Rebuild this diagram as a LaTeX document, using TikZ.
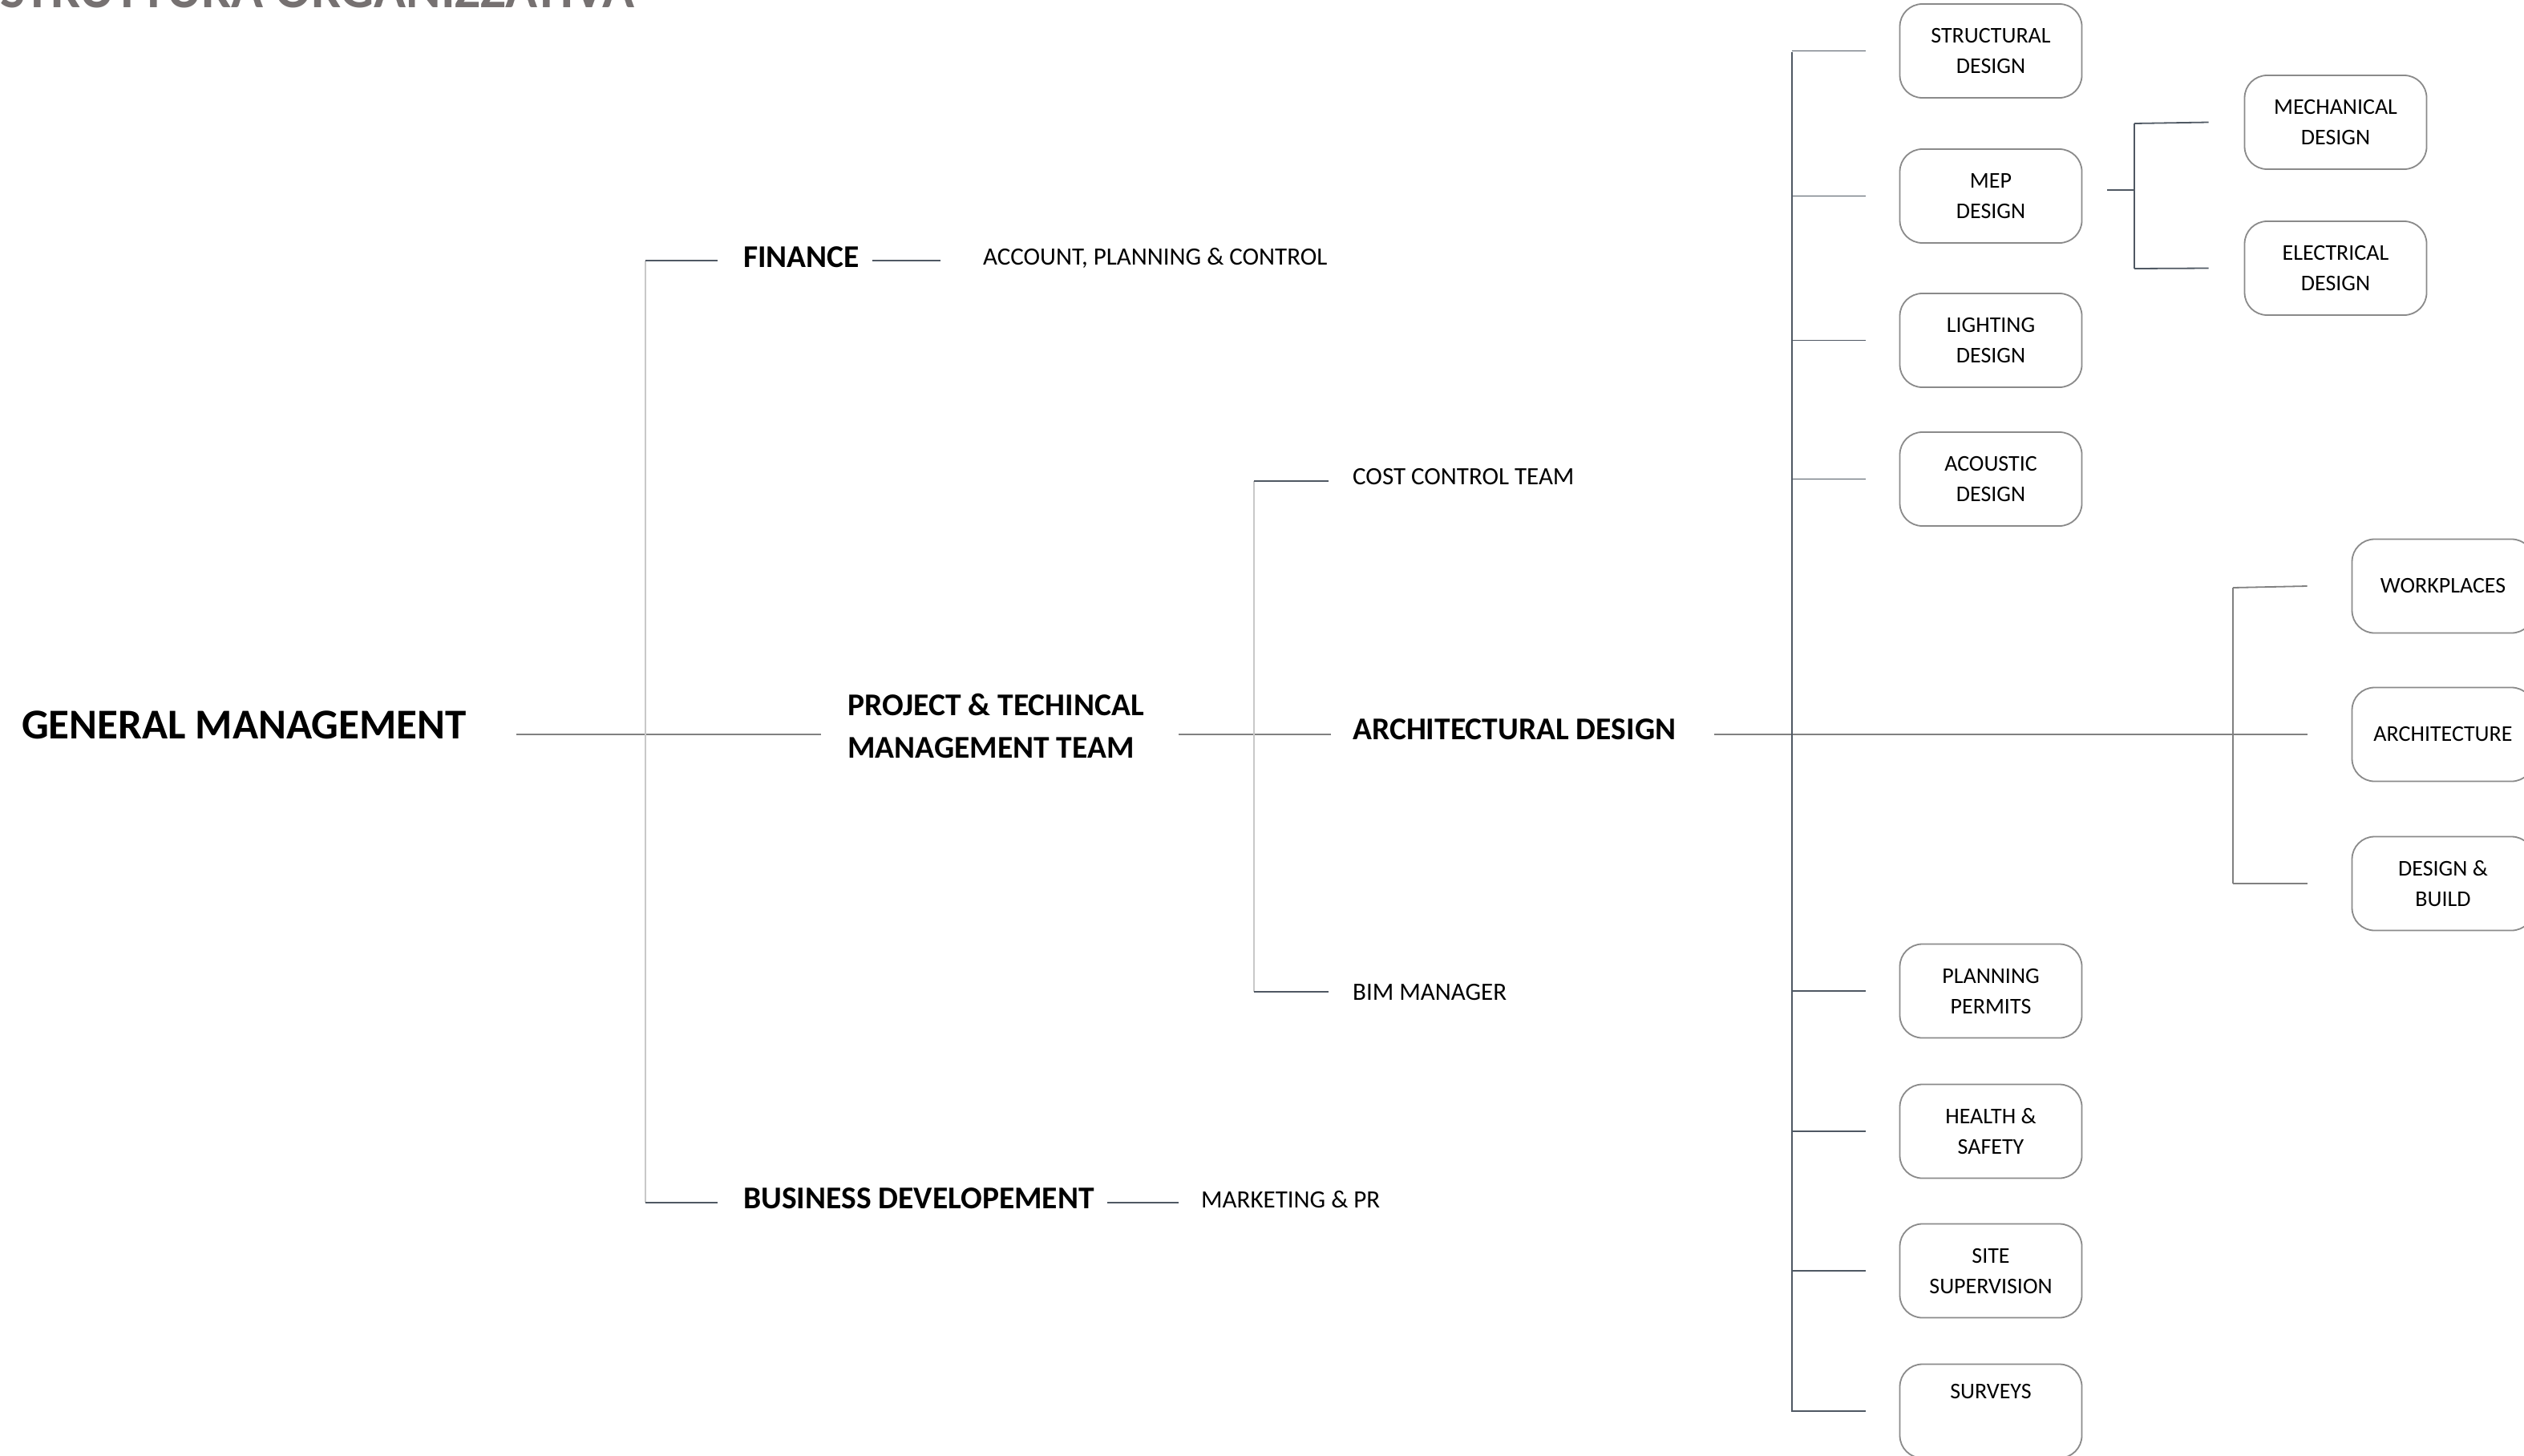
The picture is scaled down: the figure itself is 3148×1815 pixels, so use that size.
\documentclass[tikz,border=0pt]{standalone}
\usepackage{fontspec}
\setmainfont{Carlito}
\definecolor{linec}{HTML}{4F5863}
\definecolor{midc}{HTML}{808080}
\definecolor{lightc}{HTML}{C8C8C8}
\definecolor{boxc}{HTML}{8A8A8A}
\definecolor{titlec}{HTML}{767171}
\tikzset{
  ln/.style={draw=linec, line width=1.8pt},
  lnmid/.style={draw=midc, line width=2.4pt},
  lnlight/.style={draw=lightc, line width=1.6pt},
  orgbox/.style={draw=boxc, line width=1.8pt, rounded corners=28pt,
    minimum width=227pt, minimum height=117pt, align=center, inner sep=0pt,
    font=\fontsize{28}{38}\selectfont},
  lbl/.style={anchor=base west, inner sep=0pt, font=\fontsize{31}{38}\selectfont},
  blbl/.style={anchor=base west, inner sep=0pt, align=left, font=\bfseries\fontsize{39.5}{53}\selectfont},
}
\begin{document}
\begin{tikzpicture}[x=1pt,y=-1pt]
\useasboundingbox (0,0) rectangle (3148,1815);
\clip (0,0) rectangle (3148,1815);
\fill[white] (0,0) rectangle (3148,1815);

% title (cut at top edge)
\node[anchor=base west, inner sep=0pt, text=titlec, font=\bfseries\fontsize{66}{70}\selectfont] (title) at (0,9) {STRUTTURA ORGANIZZATIVA};

% text labels
\node[anchor=base west, inner sep=0pt, font=\bfseries\fontsize{53}{60}\selectfont] (gm) at (27,921) {GENERAL MANAGEMENT};
\node[blbl] (fin) at (927,333) {FINANCE};
\node[lbl] (acc) at (1226,330) {ACCOUNT, PLANNING \& CONTROL};
\node[blbl] (ptm) at (1057,945) {PROJECT \& TECHINCAL\\MANAGEMENT TEAM};
\node[blbl] (bd) at (927,1507) {BUSINESS DEVELOPEMENT};
\node[lbl] (mkt) at (1498,1506) {MARKETING \& PR};
\node[lbl] (cct) at (1687,604) {COST CONTROL TEAM};
\node[blbl] (arch) at (1687,922) {ARCHITECTURAL DESIGN};
\node[lbl] (bim) at (1687,1247) {BIM MANAGER};

% boxes
\node[orgbox] (str) at (2483,63.5) {STRUCTURAL\\DESIGN};
\node[orgbox] (mep) at (2483,244.5) {MEP\\DESIGN};
\node[orgbox] (lig) at (2483,424.5) {LIGHTING\\DESIGN};
\node[orgbox] (aco) at (2483,597.5) {ACOUSTIC\\DESIGN};
\node[orgbox] (pla) at (2483,1236) {PLANNING\\PERMITS};
\node[orgbox] (hea) at (2483,1411) {HEALTH \&\\SAFETY};
\node[orgbox] (sit) at (2483,1585) {SITE\\SUPERVISION};
\node[orgbox] (sur) at (2483,1760) {SURVEYS\\\strut};
\node[orgbox] (mec) at (2913,152.5) {MECHANICAL\\DESIGN};
\node[orgbox] (ele) at (2913,334.5) {ELECTRICAL\\DESIGN};
\node[orgbox] (wor) at (3047,731) {WORKPLACES};
\node[orgbox] (arc) at (3047,916) {ARCHITECTURE};
\node[orgbox] (dab) at (3047,1102) {DESIGN \&\\BUILD};

% junction coordinates
\coordinate (gmR) at (644,916);
\coordinate (ptmL) at (1024,916);
\coordinate (ptmR) at (1470,916);
\coordinate (archL) at (1660,916);
\coordinate (archR) at (2138,916);
\coordinate (arcL) at (2878,916);
\coordinate (b1) at (805,325);
\coordinate (b2) at (805,1500);
\coordinate (c1) at (1564,600);
\coordinate (c2) at (1564,1237);
\coordinate (d1) at (2235,65);
\coordinate (d2) at (2235,1761);
\coordinate (e1) at (2662,154);
\coordinate (e2) at (2662,335);
\coordinate (f1) at (2785,733);
\coordinate (f2) at (2785,1102);

% main horizontal connectors
\draw[lnmid] (gmR) -- (ptmL);
\draw[lnmid] (ptmR) -- (archL);
\draw[lnmid] (archR) -- (arcL);

% first bracket
\draw[lnlight] (b1) -- (b2);
\draw[ln] (b1) -- ([xshift=-32pt]fin.west |- b1);
\draw[ln] (b2) -- ([xshift=-32pt]bd.west |- b2);
\draw[ln] ([xshift=16pt]fin.east |- b1) -- ([xshift=-53pt]acc.west |- b1);
\draw[ln] ([xshift=16pt]bd.east |- b2) -- ([xshift=-28pt]mkt.west |- b2);

% second bracket
\draw[lnlight] (c1) -- (c2);
\draw[ln] (c1) -- ([xshift=-30pt]cct.west |- c1);
\draw[ln] (c2) -- ([xshift=-30pt]bim.west |- c2);

% third bracket
\draw[ln] (d1) -- (d2);
\foreach \n in {str,mep,lig,aco,pla,hea,sit,sur}{
  \draw[ln] (d1 |- \n.west) -- ([xshift=-42pt]\n.west);
}

% MEP sub bracket
\draw[ln] ([xshift=31pt]mep.east |- 0,237) -- (2662,237);
\draw[ln] (e1) -- (e2);
\draw[ln] (e1) -- ([xshift=-44pt]mec.west);
\draw[ln] (e2) -- ([xshift=-44pt]ele.west);

% architecture sub bracket
\draw[lnmid, line width=1.8pt] (f1) -- (f2);
\draw[lnmid, line width=1.8pt] (f1) -- ([xshift=-55pt]wor.west);
\draw[lnmid, line width=1.8pt] (f2) -- ([xshift=-55pt]dab.west);
\end{tikzpicture}
\end{document}
